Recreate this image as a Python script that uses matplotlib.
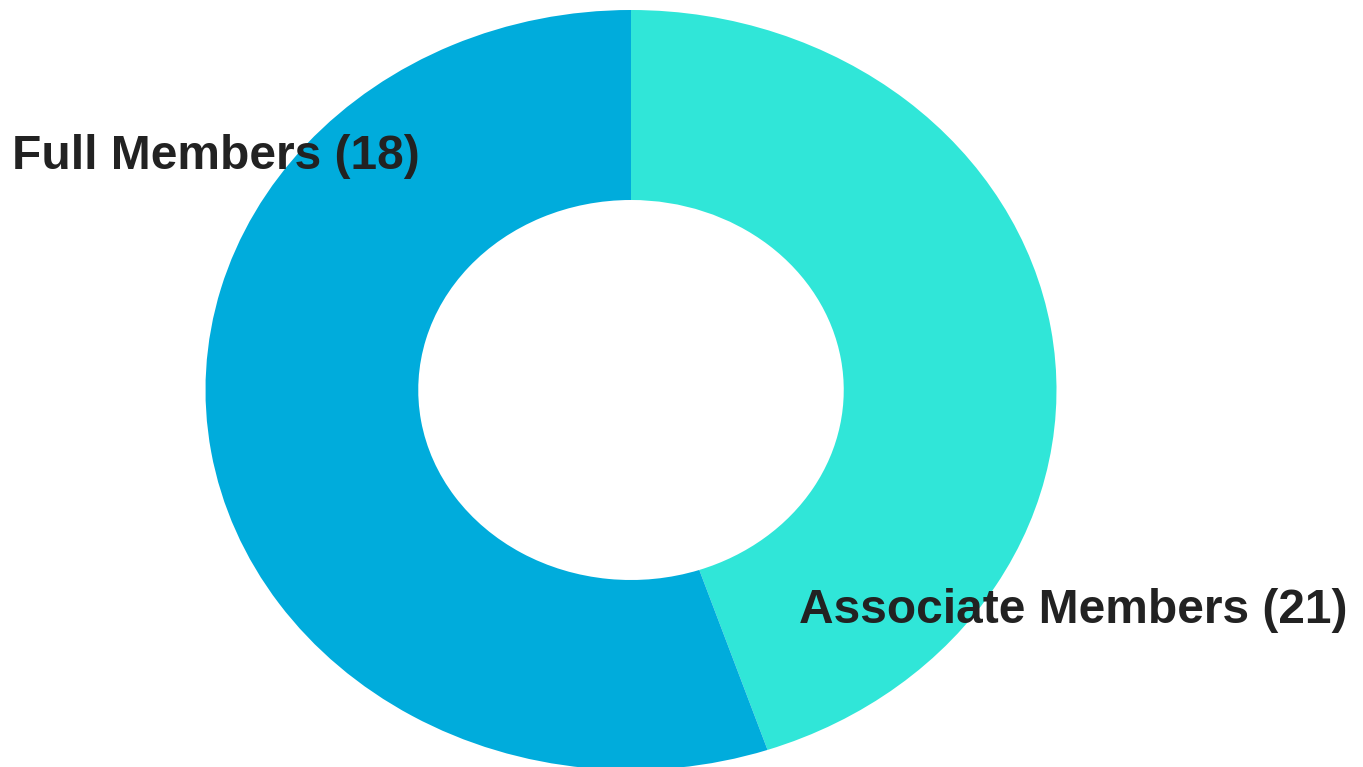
import matplotlib
matplotlib.use("Agg")
import matplotlib.pyplot as plt

categories = ["Associate Members", "Full Members"]
counts = [21, 18]
# arc share of each slice (percent)
shares = [44.8, 55.2]
colors = ["#30E6D8", "#00ACDC"]

W, H = 1363, 767
fig = plt.figure(figsize=(W / 100, H / 100), dpi=100)
ax = fig.add_axes([0, 0, 1, 1])

ax.pie(shares, colors=colors, startangle=90, counterclock=False,
       radius=1.0, wedgeprops=dict(width=0.5, edgecolor="none"))

# stretch the ring into an ellipse: center (631, 390) px, radii 425.5 x 380 px
cx, cy, rx, ry = 631, 390, 425.5, 380
ax.set_aspect("auto")
ax.set_xlim(-cx / rx, (W - cx) / rx)
ax.set_ylim(-(H - cy) / ry, cy / ry)
ax.axis("off")

label_pos = [(799, 623), (12, 169)]  # left x, baseline y in pixels
for name, n, (px, py) in zip(categories, counts, label_pos):
    fig.text(px / W, 1 - py / H, f"{name} ({n})", ha="left", va="baseline",
             fontsize=34.5, fontweight="bold", color="#222222",
             family="Liberation Sans")

fig.savefig("out.png", dpi=100)
